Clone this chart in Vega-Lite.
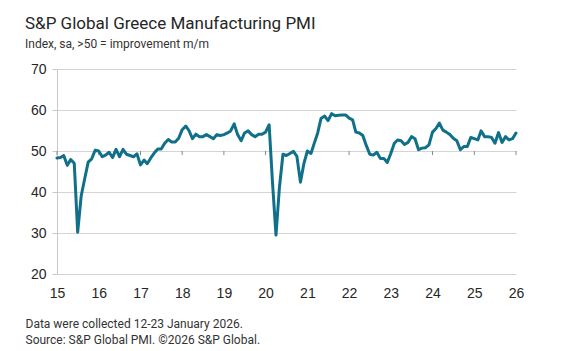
{
  "$schema": "https://vega.github.io/schema/vega-lite/v6.json",
  "width": 459,
  "height": 205,
  "autosize": {"type": "none"},
  "padding": {"left": 57, "top": 69, "right": 59, "bottom": 77},
  "background": "white",
  "config": {"view": {"stroke": null}, "font": "Roboto"},
  "title": {
    "text": "S&P Global Greece Manufacturing PMI",
    "subtitle": "Index, sa, >50 = improvement m/m",
    "anchor": "start",
    "frame": "group",
    "dx": -32,
    "offset": 11,
    "font": "Roboto",
    "fontSize": 17,
    "fontWeight": "normal",
    "color": "#262626",
    "subtitleFont": "Roboto",
    "subtitleFontSize": 12,
    "subtitleColor": "#333333",
    "subtitlePadding": 6
  },
  "datasets": {
    "pmi": [
      {"date": "2015-01-01", "pmi": 48.3}, {"date": "2015-02-01", "pmi": 48.4}, {"date": "2015-03-01", "pmi": 48.9}, {"date": "2015-04-01", "pmi": 46.5}, {"date": "2015-05-01", "pmi": 47.9}, {"date": "2015-06-01", "pmi": 47.0}, {"date": "2015-07-01", "pmi": 30.2}, {"date": "2015-08-01", "pmi": 39.1}, {"date": "2015-09-01", "pmi": 43.3}, {"date": "2015-10-01", "pmi": 47.3}, {"date": "2015-11-01", "pmi": 48.1}, {"date": "2015-12-01", "pmi": 50.2},
      {"date": "2016-01-01", "pmi": 50.0}, {"date": "2016-02-01", "pmi": 48.6}, {"date": "2016-03-01", "pmi": 49.0}, {"date": "2016-04-01", "pmi": 49.7}, {"date": "2016-05-01", "pmi": 48.4}, {"date": "2016-06-01", "pmi": 50.4}, {"date": "2016-07-01", "pmi": 48.6}, {"date": "2016-08-01", "pmi": 50.4}, {"date": "2016-09-01", "pmi": 49.2}, {"date": "2016-10-01", "pmi": 48.9}, {"date": "2016-11-01", "pmi": 48.6}, {"date": "2016-12-01", "pmi": 49.3},
      {"date": "2017-01-01", "pmi": 46.6}, {"date": "2017-02-01", "pmi": 47.8}, {"date": "2017-03-01", "pmi": 46.9}, {"date": "2017-04-01", "pmi": 48.3}, {"date": "2017-05-01", "pmi": 49.5}, {"date": "2017-06-01", "pmi": 50.5}, {"date": "2017-07-01", "pmi": 50.5}, {"date": "2017-08-01", "pmi": 51.9}, {"date": "2017-09-01", "pmi": 52.8}, {"date": "2017-10-01", "pmi": 52.2}, {"date": "2017-11-01", "pmi": 52.2}, {"date": "2017-12-01", "pmi": 53.1},
      {"date": "2018-01-01", "pmi": 55.2}, {"date": "2018-02-01", "pmi": 56.1}, {"date": "2018-03-01", "pmi": 55.0}, {"date": "2018-04-01", "pmi": 53.0}, {"date": "2018-05-01", "pmi": 54.1}, {"date": "2018-06-01", "pmi": 53.5}, {"date": "2018-07-01", "pmi": 53.5}, {"date": "2018-08-01", "pmi": 54.0}, {"date": "2018-09-01", "pmi": 53.5}, {"date": "2018-10-01", "pmi": 53.0}, {"date": "2018-11-01", "pmi": 54.0}, {"date": "2018-12-01", "pmi": 53.8},
      {"date": "2019-01-01", "pmi": 54.0}, {"date": "2019-02-01", "pmi": 54.4}, {"date": "2019-03-01", "pmi": 54.9}, {"date": "2019-04-01", "pmi": 56.6}, {"date": "2019-05-01", "pmi": 54.0}, {"date": "2019-06-01", "pmi": 52.5}, {"date": "2019-07-01", "pmi": 54.4}, {"date": "2019-08-01", "pmi": 54.9}, {"date": "2019-09-01", "pmi": 54.0}, {"date": "2019-10-01", "pmi": 53.5}, {"date": "2019-11-01", "pmi": 54.1}, {"date": "2019-12-01", "pmi": 54.1},
      {"date": "2020-01-01", "pmi": 54.6}, {"date": "2020-02-01", "pmi": 56.4}, {"date": "2020-03-01", "pmi": 42.5}, {"date": "2020-04-01", "pmi": 29.5}, {"date": "2020-05-01", "pmi": 41.1}, {"date": "2020-06-01", "pmi": 49.2}, {"date": "2020-07-01", "pmi": 48.9}, {"date": "2020-08-01", "pmi": 49.4}, {"date": "2020-09-01", "pmi": 49.9}, {"date": "2020-10-01", "pmi": 48.7}, {"date": "2020-11-01", "pmi": 42.4}, {"date": "2020-12-01", "pmi": 46.9},
      {"date": "2021-01-01", "pmi": 50.0}, {"date": "2021-02-01", "pmi": 49.4}, {"date": "2021-03-01", "pmi": 51.8}, {"date": "2021-04-01", "pmi": 54.4}, {"date": "2021-05-01", "pmi": 58.0}, {"date": "2021-06-01", "pmi": 58.5}, {"date": "2021-07-01", "pmi": 57.4}, {"date": "2021-08-01", "pmi": 59.1}, {"date": "2021-09-01", "pmi": 58.6}, {"date": "2021-10-01", "pmi": 58.7}, {"date": "2021-11-01", "pmi": 58.8}, {"date": "2021-12-01", "pmi": 58.8},
      {"date": "2022-01-01", "pmi": 58.0}, {"date": "2022-02-01", "pmi": 57.6}, {"date": "2022-03-01", "pmi": 54.6}, {"date": "2022-04-01", "pmi": 54.4}, {"date": "2022-05-01", "pmi": 53.8}, {"date": "2022-06-01", "pmi": 51.3}, {"date": "2022-07-01", "pmi": 49.2}, {"date": "2022-08-01", "pmi": 49.0}, {"date": "2022-09-01", "pmi": 49.7}, {"date": "2022-10-01", "pmi": 48.2}, {"date": "2022-11-01", "pmi": 48.2}, {"date": "2022-12-01", "pmi": 47.2},
      {"date": "2023-01-01", "pmi": 49.4}, {"date": "2023-02-01", "pmi": 51.9}, {"date": "2023-03-01", "pmi": 52.7}, {"date": "2023-04-01", "pmi": 52.5}, {"date": "2023-05-01", "pmi": 51.6}, {"date": "2023-06-01", "pmi": 52.1}, {"date": "2023-07-01", "pmi": 53.5}, {"date": "2023-08-01", "pmi": 53.0}, {"date": "2023-09-01", "pmi": 50.3}, {"date": "2023-10-01", "pmi": 50.7}, {"date": "2023-11-01", "pmi": 50.8}, {"date": "2023-12-01", "pmi": 51.5},
      {"date": "2024-01-01", "pmi": 54.6}, {"date": "2024-02-01", "pmi": 55.5}, {"date": "2024-03-01", "pmi": 56.8}, {"date": "2024-04-01", "pmi": 55.1}, {"date": "2024-05-01", "pmi": 54.6}, {"date": "2024-06-01", "pmi": 54.0}, {"date": "2024-07-01", "pmi": 53.1}, {"date": "2024-08-01", "pmi": 52.5}, {"date": "2024-09-01", "pmi": 50.3}, {"date": "2024-10-01", "pmi": 51.1}, {"date": "2024-11-01", "pmi": 51.1}, {"date": "2024-12-01", "pmi": 53.3},
      {"date": "2025-01-01", "pmi": 53.0}, {"date": "2025-02-01", "pmi": 52.7}, {"date": "2025-03-01", "pmi": 54.9}, {"date": "2025-04-01", "pmi": 53.5}, {"date": "2025-05-01", "pmi": 53.5}, {"date": "2025-06-01", "pmi": 53.3}, {"date": "2025-07-01", "pmi": 51.9}, {"date": "2025-08-01", "pmi": 54.5}, {"date": "2025-09-01", "pmi": 52.1}, {"date": "2025-10-01", "pmi": 53.5}, {"date": "2025-11-01", "pmi": 52.7}, {"date": "2025-12-01", "pmi": 53.0},
      {"date": "2026-01-01", "pmi": 54.4}
    ],
    "years": [
      {"year": "2015-01-01"}, {"year": "2016-01-01"}, {"year": "2017-01-01"}, {"year": "2018-01-01"}, {"year": "2019-01-01"}, {"year": "2020-01-01"},
      {"year": "2021-01-01"}, {"year": "2022-01-01"}, {"year": "2023-01-01"}, {"year": "2024-01-01"}, {"year": "2025-01-01"}, {"year": "2026-01-01"}
    ]
  },
  "layer": [
    {
      "data": {"name": "pmi"},
      "mark": {"type": "line", "color": "#10708a", "strokeWidth": 3, "strokeJoin": "round", "strokeCap": "round", "opacity": 0},
      "encoding": {
        "x": {
          "field": "date",
          "type": "temporal",
          "scale": {"type": "utc", "domain": ["2015-01-01", "2026-01-01"]},
          "axis": {
            "labelExpr": "utcFormat(datum.value, '%y')",
            "tickCount": {"interval": "year", "step": 1},
            "grid": false,
            "ticks": false,
            "domain": false,
            "labelFont": "Liberation Sans",
            "labelFontSize": 14,
            "labelColor": "#262626",
            "labelPadding": 12,
            "labelFlush": false,
            "labelOverlap": false,
            "title": ["Data were collected 12-23 January 2026.", "Source: S&P Global PMI. ©2026 S&P Global."],
            "titleFont": "Roboto",
            "titleFontSize": 12,
            "titleFontWeight": "normal",
            "titleColor": "#333333",
            "titleAnchor": "start",
            "titleAlign": "left",
            "titleBaseline": "alphabetic",
            "titleX": -32,
            "titleY": 53,
            "titleLineHeight": 16
          }
        },
        "y": {
          "field": "pmi",
          "type": "quantitative",
          "scale": {"domain": [20, 70], "nice": false, "zero": false},
          "axis": {
            "values": [20, 30, 40, 50, 60, 70],
            "title": null,
            "grid": true,
            "gridColor": "#d4d4d4",
            "gridWidth": 1,
            "domain": true,
            "domainColor": "#c8c8c8",
            "ticks": true,
            "tickColor": "#c8c8c8",
            "tickSize": 5,
            "labelFont": "Liberation Sans",
            "labelFontSize": 14,
            "labelColor": "#262626",
            "labelPadding": 6
          }
        }
      }
    },
    {
      "mark": {"type": "rule", "color": "#8a8a8a", "strokeWidth": 1},
      "encoding": {"y": {"datum": 50}}
    },
    {
      "data": {"name": "years"},
      "mark": {"type": "rule", "color": "#8a8a8a", "strokeWidth": 1},
      "encoding": {
        "x": {"field": "year", "type": "temporal"},
        "y": {"datum": 50},
        "y2": {"datum": 49}
      }
    },
    {
      "data": {"name": "pmi"},
      "mark": {"type": "line", "color": "#10708a", "strokeWidth": 3, "strokeJoin": "round", "strokeCap": "round"},
      "encoding": {
        "x": {"field": "date", "type": "temporal"},
        "y": {"field": "pmi", "type": "quantitative"}
      }
    }
  ]
}
